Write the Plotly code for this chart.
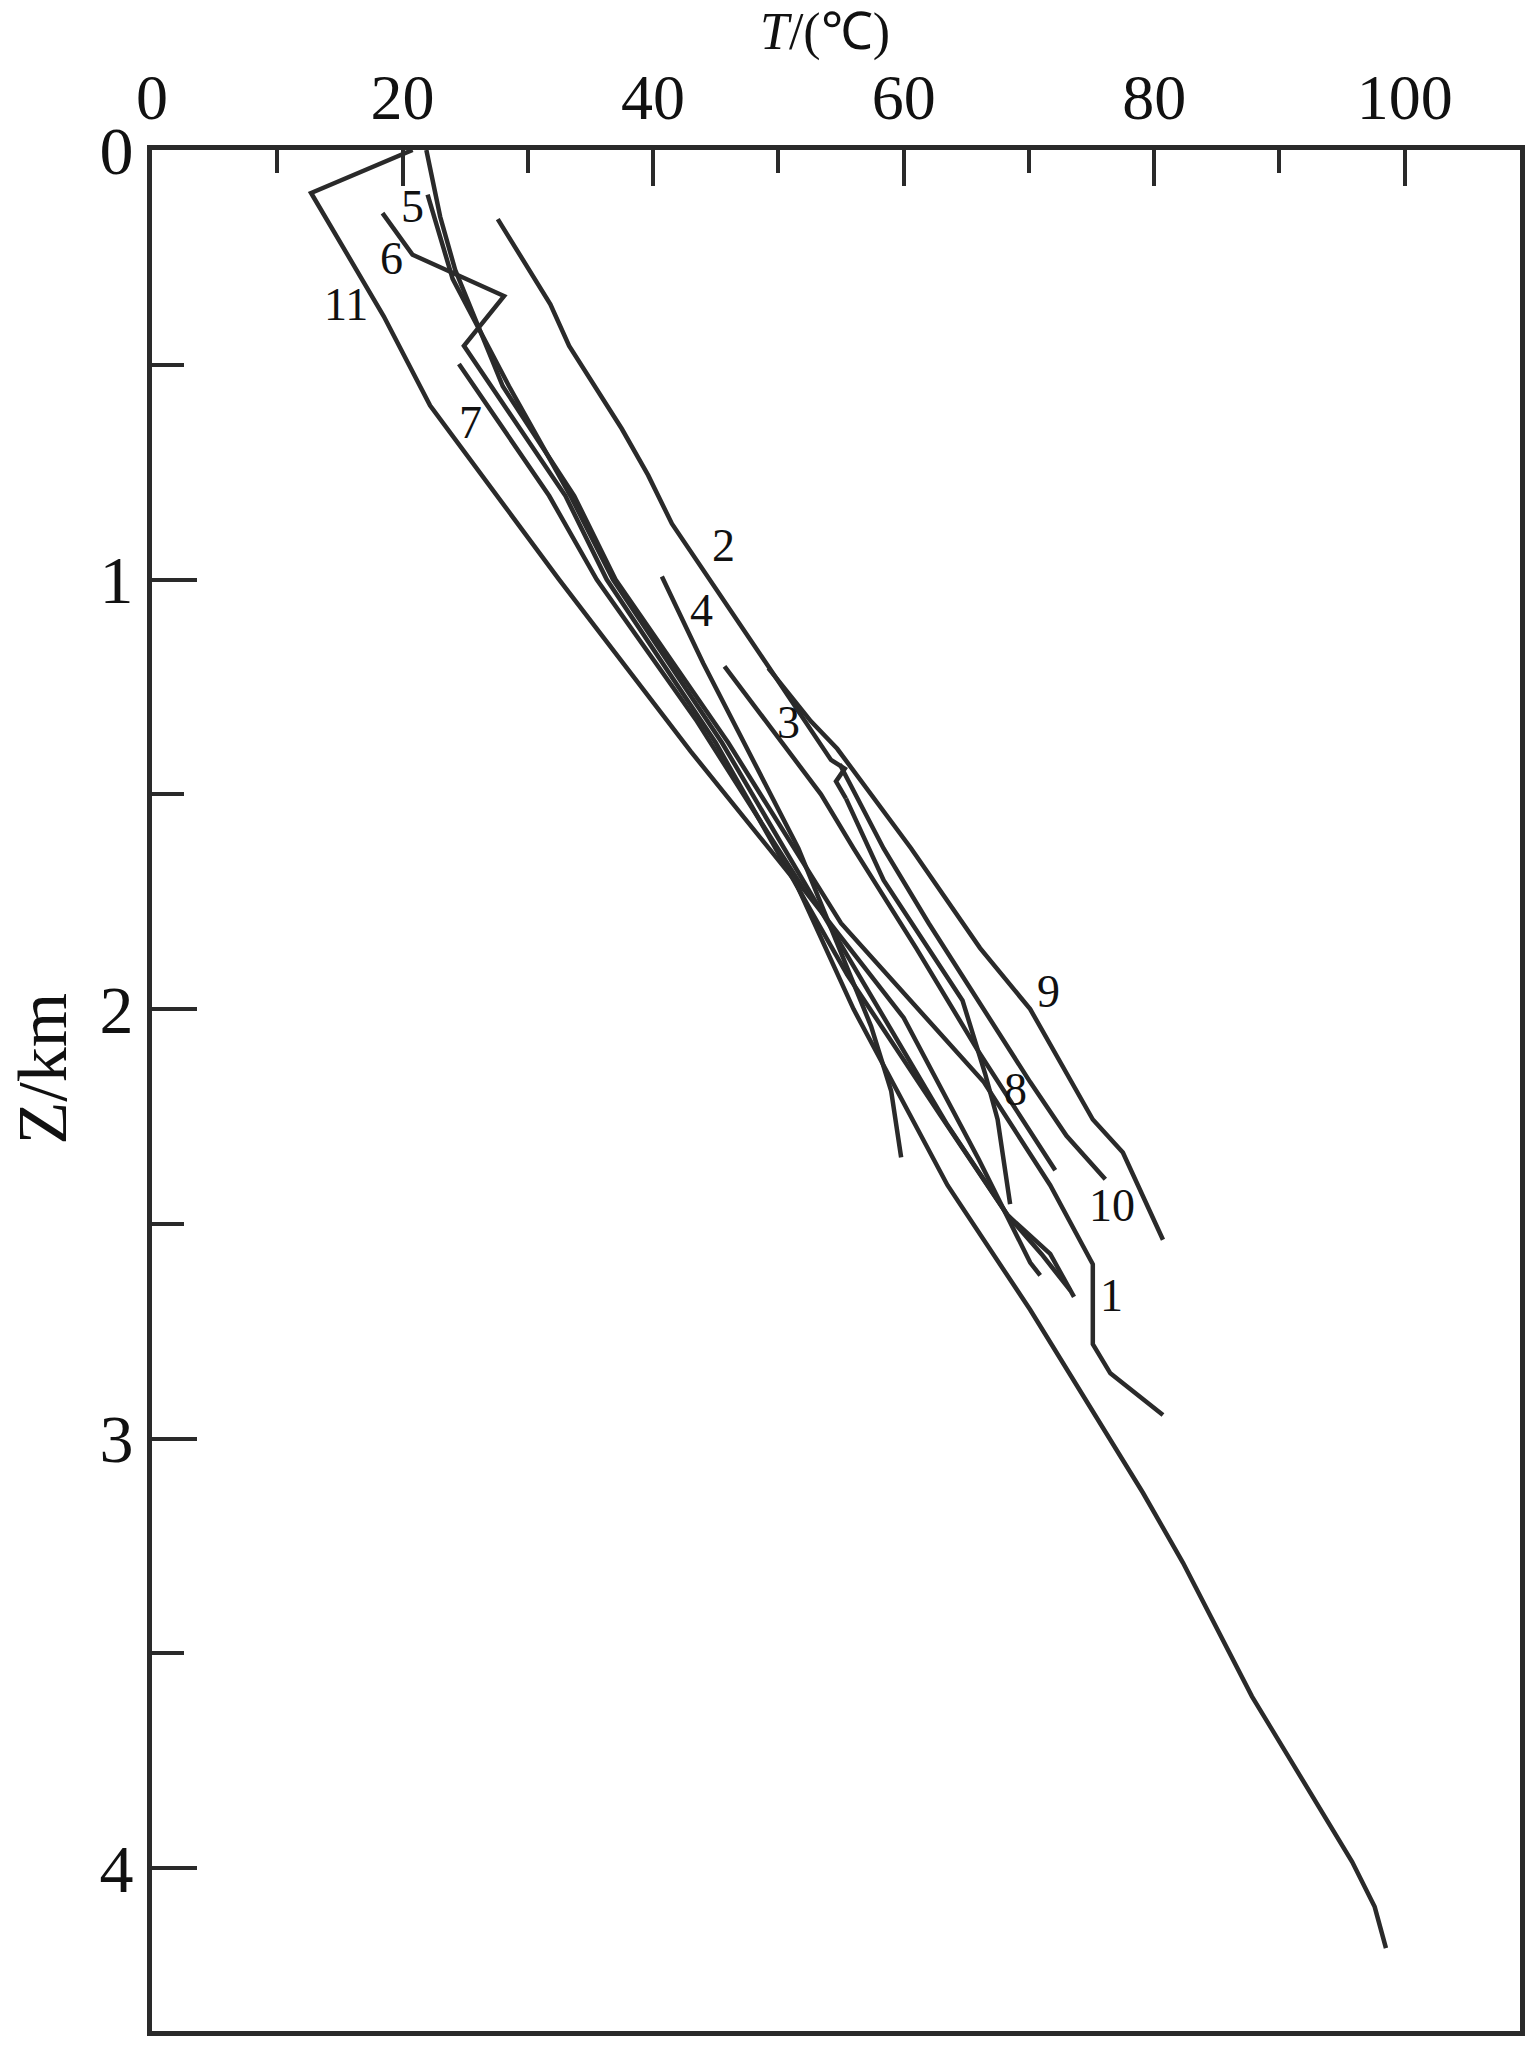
import plotly.graph_objects as go

# temperature (deg C) / depth (km) profiles
t1 = [21.9, 23.0, 24.2, 28.0, 33.7, 37.0, 46.0, 55.0, 66.4, 71.7, 75.1, 75.1, 76.5, 80.7]
z1 = [0.0, 0.155, 0.279, 0.55, 0.805, 1.0, 1.38, 1.8, 2.17, 2.41, 2.594, 2.78, 2.848, 2.945]

t2 = [27.6, 31.8, 33.3, 35.6, 37.5, 39.6, 41.5, 49.5, 54.2, 55.3, 54.6, 55.4]
z2 = [0.161, 0.359, 0.456, 0.564, 0.649, 0.757, 0.87, 1.215, 1.42, 1.44, 1.47, 1.51]

t3 = [45.7, 53.4, 56.0, 61.0, 66.0, 72.1]
z3 = [1.202, 1.50, 1.626, 1.858, 2.1, 2.375]

t4 = [40.7, 44.0, 51.6, 57.4, 59.0, 59.8]
z4 = [0.993, 1.195, 1.626, 2.04, 2.19, 2.345]

t5 = [22.0, 24.0, 28.5, 33.4, 36.8, 45.5, 56.0, 63.5, 68.3, 69.8, 71.7, 73.6]
z5 = [0.104, 0.30, 0.55, 0.805, 1.0, 1.38, 1.9, 2.27, 2.48, 2.52, 2.57, 2.67]

t6 = [18.4, 20.8, 28.1, 24.9, 33.0, 36.3, 45.0, 55.5, 63.0, 68.3, 71.0, 73.3]
z6 = [0.147, 0.244, 0.34, 0.456, 0.805, 1.0, 1.38, 1.92, 2.25, 2.48, 2.57, 2.655]

t7 = [24.5, 31.7, 35.5, 43.5, 52.0, 60.0, 66.0, 70.1, 70.9]
z7 = [0.498, 0.805, 1.0, 1.33, 1.72, 2.02, 2.35, 2.59, 2.62]

t8 = [55.4, 58.4, 64.7, 66.5, 67.5, 68.5]
z8 = [1.51, 1.70, 1.98, 2.15, 2.257, 2.454]

t9 = [49.2, 52.6, 54.7, 60.6, 66.1, 69.5, 70.1, 75.1, 77.5, 80.7]
z9 = [1.206, 1.33, 1.394, 1.626, 1.858, 1.978, 2.0, 2.257, 2.334, 2.537]

t10 = [54.9, 58.4, 62.0, 70.1, 73.0, 76.1]
z10 = [1.43, 1.626, 1.80, 2.17, 2.295, 2.396]

t11 = [20.8, 12.7, 18.5, 22.2, 32.5, 43.0, 51.3, 56.0, 63.5, 70.1, 79.1, 82.3, 87.8, 95.8, 97.6, 98.5]
z11 = [0.0, 0.10, 0.387, 0.595, 1.0, 1.4, 1.70, 2.0, 2.41, 2.70, 3.126, 3.289, 3.60, 3.985, 4.09, 4.186]

curves = [(t1, z1), (t2, z2), (t3, z3), (t4, z4), (t5, z5), (t6, z6),
          (t7, z7), (t8, z8), (t9, z9), (t10, z10), (t11, z11)]

# curve number labels
lab_text = ["1", "2", "3", "4", "5", "6", "7", "8", "9", "10", "11"]
lab_t = [76.6, 45.6, 50.8, 43.9, 20.8, 19.1, 25.4, 68.9, 71.6, 76.6, 15.5]
lab_z = [2.667, 0.921, 1.332, 1.072, 0.131, 0.252, 0.635, 2.187, 1.959, 2.458, 0.360]

ink = "#2a2a2a"
serif = "Liberation Serif, Times New Roman, serif"

fig = go.Figure()
for t, z in curves:
    fig.add_trace(go.Scatter(x=t, y=z, mode="lines",
                             line=dict(color=ink, width=4.5),
                             showlegend=False, hoverinfo="skip"))

for s, t, z in zip(lab_text, lab_t, lab_z):
    fig.add_annotation(x=t, y=z, text=s, showarrow=False,
                       font=dict(family=serif, size=46, color="#111111"))

# page body has an 8px margin, so the figure is laid out 8px up/left
fig.add_annotation(x=0.4916, y=1.0626, xref="paper", yref="paper",
                   xanchor="center", yanchor="middle",
                   text="<i>T</i>/(℃)", showarrow=False,
                   font=dict(family=serif, size=52, color="#111111"))
fig.add_annotation(x=-0.0801, y=0.5119, xref="paper", yref="paper",
                   xanchor="center", yanchor="middle",
                   text="Z/km", textangle=-90, showarrow=False,
                   font=dict(family=serif, size=70, color="#111111"))

fig.update_layout(
    width=1519, height=2030,
    margin=dict(l=144, r=2, t=142, b=3),
    plot_bgcolor="white", paper_bgcolor="white",
    xaxis=dict(side="top", range=[0, 109.2], tick0=0, dtick=20,
               ticks="inside", ticklen=36, tickwidth=4, tickcolor=ink,
               minor=dict(dtick=10, tick0=0, ticks="inside", ticklen=23,
                          tickwidth=4, tickcolor=ink),
               showline=True, linewidth=5, linecolor=ink, mirror=True,
               showgrid=False, zeroline=False,
               tickfont=dict(family=serif, size=64, color="#111111")),
    yaxis=dict(range=[4.379, 0], tick0=0, dtick=1,
               ticks="inside", ticklen=45, tickwidth=4, tickcolor=ink,
               minor=dict(dtick=0.5, tick0=0, ticks="inside", ticklen=32,
                          tickwidth=4, tickcolor=ink),
               showline=True, linewidth=5, linecolor=ink, mirror=True,
               showgrid=False, zeroline=False,
               tickfont=dict(family=serif, size=68, color="#111111")),
)

fig.write_html("out.html")
